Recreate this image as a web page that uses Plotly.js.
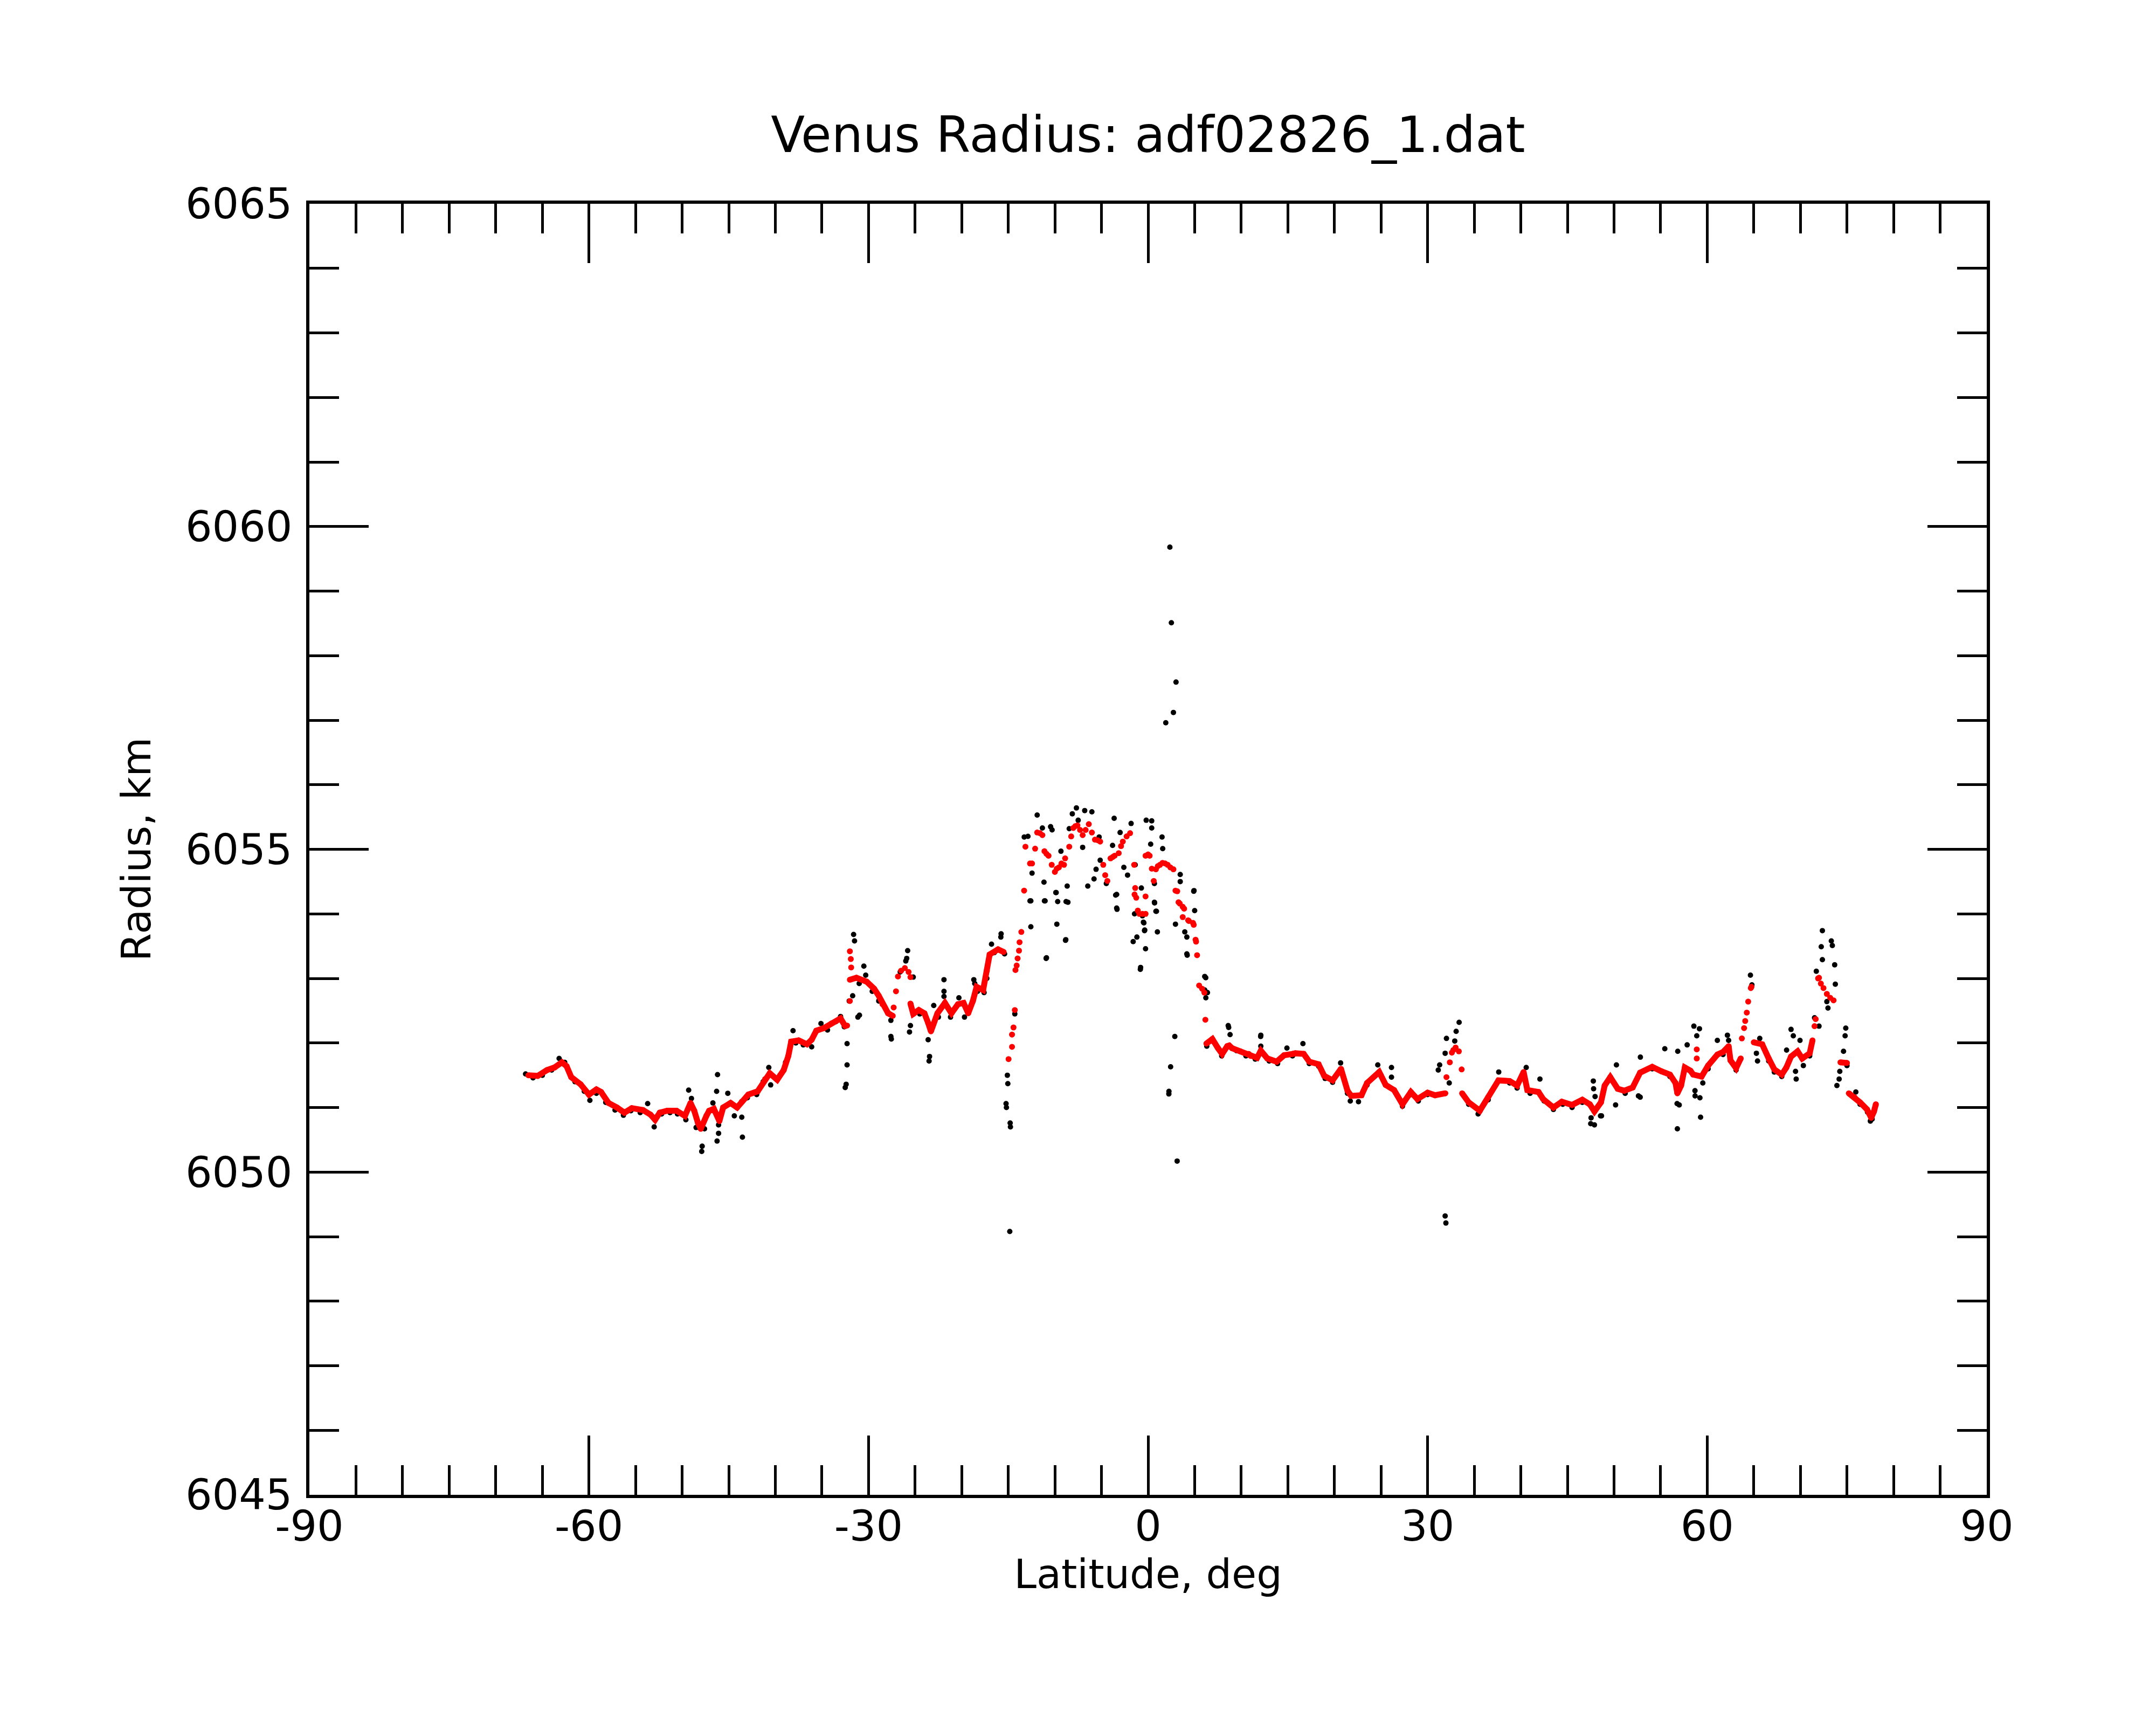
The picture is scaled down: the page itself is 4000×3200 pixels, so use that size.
<!DOCTYPE html>
<html>
<head>
<meta charset="utf-8">
<script src="https://cdn.plot.ly/plotly-3.0.1.min.js"></script>
<style>
  html, body { margin: 0; padding: 0; background: #ffffff; }
  #chart { width: 4000px; height: 3200px; }
</style>
</head>
<body>
<div id="chart"></div>
<script>
// Venus radius profile vs latitude, raw samples (black) and filtered track (red)

// axis ticks
const latTicks = [-90, -60, -30, 0, 30, 60, 90];
const latTickText = ['-90', '-60', '-30', '0', '30', '60', '90'];
const radTicks = [6045, 6050, 6055, 6060, 6065];
const radTickText = ['6045', '6050', '6055', '6060', '6065'];

// filtered track, continuous stretches (null = break)
const redLineLat = [
  -66.5, -65.5, -64.5, -63.7, -62.9, -62.4, -61.9, -60.9, -60.0, -59.2, -58.7, -57.9, -57.0, -56.2,
  -55.4, -54.2, -53.4, -52.9, -52.4, -51.6, -50.6, -49.7, -49.1, -48.7, -48.3, -48.0, -47.4, -47.1,
  -46.6, -46.0, -45.6, -44.8, -44.1, -43.6, -42.9, -41.9, -41.1, -40.6, -39.8, -39.1, -38.6, -38.3,
  -37.5, -36.6, -36.1, -35.6, -34.8, -34.0, -33.0, -32.5, null,
  -32.0, -31.3, -30.2, -29.4, -28.9, -28.5, -27.9, -27.4, null,
  -25.5, -25.2, -24.6, -24.0, -23.6, -23.3, -22.6, -21.8, -21.1, -20.4, -19.8, -19.3, -18.8, -18.4,
  -17.7, -17.3, -17.0, -16.1, -15.5, null,
  6.26, 6.9, 7.5, 7.95, 8.5, 8.71, 9.0, 9.9, 10.8, 11.0, 11.7, 12.1, 12.8, 13.8, 14.6, 15.5, 15.8,
  16.7, 17.3, 18.3, 18.9, 19.8, 20.7, 21.4, 21.8, 22.9, 23.5, 24.8, 25.5, 26.4, 27.3, 28.2, 28.9,
  30.0, 30.8, 31.9, null,
  33.7, 34.4, 35.6, 36.5, 37.6, 38.8, 39.6, 40.3, 40.7, 41.9, 42.4, 43.5, 44.4, 45.5, 46.6, 47.4,
  47.9, 48.6, 49.0, 49.6, 50.4, 51.1, 52.0, 52.8, 54.1, 55.1, 56.0, 56.6, 56.8, 57.2, 57.6, 58.2,
  58.5, 59.4, 60.1, 61.1, 61.7, 62.3, 62.5, 63.1, 63.6, null,
  65.0, 65.9, 66.6, 67.2, 68.0, 68.5, 69.0, 69.7, 70.2, 71.0, 71.3, null,
  74.3, 75.0, null,
  75.2, 75.8, 76.4, 77.15, 77.6, 77.9, 78.1
];
const redLineRad = [
  6051.50, 6051.49, 6051.58, 6051.62, 6051.70, 6051.64, 6051.47, 6051.36, 6051.20, 6051.28, 6051.24, 6051.07, 6051.00, 6050.92,
  6050.99, 6050.96, 6050.89, 6050.81, 6050.92, 6050.95, 6050.95, 6050.87, 6051.07, 6050.95, 6050.76, 6050.67, 6050.87, 6050.95,
  6050.98, 6050.79, 6051.00, 6051.07, 6051.00, 6051.09, 6051.20, 6051.25, 6051.44, 6051.53, 6051.43, 6051.58, 6051.80, 6052.02,
  6052.04, 6051.98, 6052.05, 6052.19, 6052.23, 6052.30, 6052.38, 6052.26, null,
  6052.98, 6053.01, 6052.95, 6052.84, 6052.73, 6052.60, 6052.46, 6052.42, null,
  6052.61, 6052.45, 6052.51, 6052.46, 6052.31, 6052.18, 6052.46, 6052.62, 6052.46, 6052.60, 6052.62, 6052.46, 6052.65, 6052.87,
  6052.82, 6053.12, 6053.37, 6053.45, 6053.41, null,
  6051.99, 6052.06, 6051.92, 6051.83, 6051.95, 6051.96, 6051.92, 6051.87, 6051.83, 6051.80, 6051.77, 6051.88, 6051.76, 6051.71, 6051.81, 6051.83, 6051.84,
  6051.83, 6051.71, 6051.67, 6051.49, 6051.42, 6051.60, 6051.26, 6051.18, 6051.19, 6051.38, 6051.55, 6051.35, 6051.27, 6051.05, 6051.24, 6051.13,
  6051.23, 6051.19, 6051.22, null,
  6051.22, 6051.08, 6050.95, 6051.16, 6051.42, 6051.41, 6051.34, 6051.55, 6051.27, 6051.24, 6051.13, 6051.00, 6051.09, 6051.04, 6051.12, 6051.05,
  6050.94, 6051.08, 6051.34, 6051.47, 6051.29, 6051.26, 6051.31, 6051.54, 6051.63, 6051.56, 6051.51, 6051.38, 6051.22, 6051.34, 6051.62, 6051.57,
  6051.51, 6051.48, 6051.65, 6051.82, 6051.86, 6051.95, 6051.73, 6051.61, 6051.76, null,
  6052.01, 6051.98, 6051.76, 6051.59, 6051.51, 6051.62, 6051.79, 6051.87, 6051.76, 6051.84, 6052.04, null,
  6051.70, 6051.69, null,
  6051.22, 6051.16, 6051.08, 6050.97, 6050.84, 6050.94, 6051.05
];

// filtered track, isolated samples
const redDotLat = [
  -32.3, -32.0, -31.9, -31.86, -32.0,
  -27.3, -27.05, -26.84, -26.5, -26.1, -25.7, -25.5,
  -14.97, -14.6, -14.6, -14.44, -14.3, -14.23, -14.1, -14.0, -13.85, -13.79, -13.6, -13.3, -13.16,
  -12.67, -12.45, -12.12, -11.9, -11.6, -11.34, -11.12, -10.9, -10.68, -10.34, -10.0, -9.8, -9.57,
  -9.3, -9.02, -8.9, -8.46, -8.25, -8.02, -7.8, -7.58, -7.3, -7.02, -6.7, -6.36, -6.03, -5.7, -5.4,
  -5.14, -4.81, -4.6, -4.37, -4.03, -3.8, -3.59, -3.15, -2.9, -2.71, -2.3, -1.93, -1.49, -1.45,
  -1.38, -1.27, -1.1, -0.93, -0.6, -0.27, -0.27, -0.27, 0.0, 0.17, 0.4, 0.61, 0.84, 1.05, 1.28,
  1.55, 1.83, 2.1, 2.39, 2.72, 2.94, 3.13, 3.27, 3.4, 3.71, 3.87, 3.72, 4.3, 4.38, 4.82, 4.9, 5.1,
  5.15, 5.26, 5.48, 5.8, 6.04, 6.15,
  32.02, 32.38, 32.6, 32.76, 33.0, 33.35, 33.65,
  58.88, 58.88, 63.72, 63.96, 64.08, 64.25, 64.4, 64.68, 64.75,
  71.52, 71.64, 71.9, 72.0, 72.2, 72.48, 72.84, 73.2, 73.56
];
const redDotRad = [
  6052.27, 6053.42, 6053.30, 6053.17, 6052.65,
  6052.55, 6052.80, 6053.03, 6053.12, 6053.16, 6053.10, 6053.02,
  6051.75, 6051.94, 6052.13, 6052.24, 6052.51, 6053.13, 6053.20, 6053.31, 6053.43, 6053.56, 6053.72, 6054.36, 6055.04,
  6054.78, 6054.78, 6055.01, 6055.26, 6055.25, 6055.22, 6054.97, 6054.93, 6054.90, 6054.76, 6054.65, 6054.70, 6054.72,
  6054.78, 6054.76, 6054.86, 6055.04, 6055.20, 6055.33, 6055.36, 6055.37, 6055.30, 6055.22, 6055.30, 6055.39, 6055.26, 6055.15, 6055.14,
  6055.12, 6054.76, 6054.60, 6054.51, 6054.86, 6054.88, 6054.90, 6054.94, 6055.05, 6055.12, 6055.20, 6055.25, 6054.76, 6054.30,
  6054.40, 6054.25, 6054.05, 6054.00, 6054.00, 6054.00, 6054.27, 6054.90, 6054.92, 6054.90, 6054.70, 6054.51, 6054.69, 6054.74, 6054.76,
  6054.79, 6054.78, 6054.76, 6054.72, 6054.69, 6054.36, 6054.35, 6054.18, 6054.16, 6054.11, 6054.08, 6053.95, 6053.90, 6053.89, 6053.86, 6053.83, 6053.60,
  6053.57, 6053.36, 6052.89, 6052.84, 6052.78, 6052.36,
  6051.47, 6051.70, 6051.85, 6051.89, 6051.93, 6051.87, 6051.59,
  6051.76, 6051.90, 6052.07, 6052.23, 6052.34, 6052.47, 6052.64, 6052.85, 6052.87,
  6052.26, 6052.37, 6053.00, 6053.01, 6052.92, 6052.85, 6052.76, 6052.70, 6052.66
];

// raw samples
const rawLat = [
  -66.8, -66.0, -65.0, -64.0, -63.2, -62.6, -61.5, -60.5, -59.9, -59.2, -58.2, -57.2, -56.3, -55.5,
  -54.5, -53.7, -53.0, -52.2, -51.3, -50.5, -49.6, -49.3, -49.0, -48.5, -47.9, -47.85, -47.6, -46.7,
  -46.3, -46.25, -46.2, -46.09, -46.09, -45.1, -44.4, -43.6, -43.53, -43.0, -42.0, -41.3, -40.7, -40.5,
  -39.5, -38.9, -38.1, -37.8, -37.0, -36.1, -35.1, -34.4, -33.5, -33.0, -32.6,
  -32.5, -32.4, -32.3, -32.3, -32.07, -31.7, -31.6, -31.5, -31.14, -30.97, -30.5, -30.3, -31.0, -29.6,
  -28.9, -27.6, -27.6, -27.55, -25.8, -25.9, -26.0, -26.6, -25.2, -25.5, -25.6, -24.5, -23.6, -23.45,
  -23.5, -23.0, -22.5, -21.9, -21.9, -21.9, -21.2, -20.3, -19.7, -18.7, -18.6, -18.3, -17.6, -17.3,
  -16.8, -16.5, -15.77, -15.8, -15.4,
  -15.1, -15.05, -15.24, -15.2, -14.8, -14.77, -14.84, -14.6, -14.3,
  -13.29, -12.89, -12.58, -12.58, -12.67, -12.45, -11.9, -11.34, -11.17, -11.12, -11.05, -10.94, -10.9,
  -10.46, -10.3, -9.9, -9.86, -9.79, -9.7, -9.35, -8.86, -8.83, -8.8, -8.68, -8.6, -8.46, -8.13, -7.69,
  -7.5, -7.02, -6.8, -6.47, -6.03, -5.8, -5.58, -5.25, -5.14, -4.48, -3.81, -3.64, -3.48, -3.37, -3.37,
  -3.33, -3.0, -2.6, -2.2, -1.82, -1.6, -1.45, -1.38, -1.2, -0.83, -0.8, -0.72, -0.6, -0.5, -0.45,
  -0.38, -0.36, -0.27, -0.2, 0.28, 0.39, 0.39, 0.68, 0.68, 0.7, 0.84, 0.9, 1.0, 1.5, 1.57,
  1.9, 2.34, 2.5, 2.72, 3.0, 2.23, 2.24, 2.42, 2.87, 3.12, 2.94, 3.45, 3.45, 3.94, 4.16, 4.16, 4.2,
  4.9, 4.93, 5.0, 6.08, 6.19, 6.08, 6.37, 6.2,
  6.3, 7.0, 7.9, 8.6, 8.65, 8.8, 9.5, 10.5, 11.5, 12.08, 12.1, 12.1, 13.0, 13.9, 14.9, 15.5, 16.62,
  17.3, 18.3, 19.0, 19.8, 20.66, 21.4, 21.7, 22.58, 23.5, 24.65, 25.0, 26.12, 26.12, 27.3, 28.2, 29.0,
  30.0, 31.14, 31.29, 31.88, 32.02, 32.32, 32.91, 33.06, 33.38, 31.88, 31.96,
  34.4, 35.42, 36.5, 37.63, 38.8, 39.6, 40.58, 41.0, 42.05, 42.5, 43.5, 44.5, 45.5, 46.6, 47.5, 47.54,
  47.78, 47.81, 47.9, 47.97, 48.55, 48.66, 50.17, 50.26, 51.2, 52.62, 52.81, 52.83, 54.1, 55.45, 56.0,
  56.77, 56.8, 56.84, 57.0, 57.85, 58.57, 58.69, 58.7, 58.88, 59.17, 59.22, 59.29, 59.53, 60.1, 61.09,
  61.7, 62.17, 62.3, 63.1, 64.64, 64.8, 65.28, 65.4, 65.64, 66.6, 67.2, 68.0, 68.52, 69.0, 69.24,
  69.48, 69.55, 69.96, 70.32, 71.0, 71.52, 71.71, 72.0, 72.24, 72.36, 72.36, 72.84, 72.96, 73.32,
  73.43, 73.68, 73.75, 73.92, 74.16, 74.23, 74.63, 74.8, 74.87, 75.0, 75.95, 76.4, 77.2, 77.51, 77.7
];
const rawRad = [
  6051.52, 6051.46, 6051.50, 6051.58, 6051.76, 6051.70, 6051.40, 6051.25, 6051.11, 6051.22, 6051.08, 6050.96, 6050.88, 6050.95,
  6050.92, 6051.06, 6050.70, 6050.90, 6050.92, 6050.90, 6050.81, 6051.27, 6051.14, 6050.69, 6050.32, 6050.40, 6050.67, 6051.07,
  6051.25, 6050.48, 6051.51, 6050.73, 6050.60, 6051.22, 6050.87, 6050.85, 6050.54, 6051.15, 6051.20, 6051.40, 6051.62, 6051.35,
  6051.50, 6051.70, 6052.19, 6052.00, 6051.97, 6051.94, 6052.30, 6052.20, 6052.33, 6052.41, 6052.25,
  6051.31, 6051.36, 6051.66, 6051.99, 6052.65, 6052.73, 6053.68, 6053.58, 6052.40, 6052.43, 6053.19, 6053.05, 6052.92, 6052.80,
  6052.65, 6052.35, 6052.10, 6052.06, 6053.43, 6053.31, 6053.27, 6053.10, 6053.02, 6052.27, 6052.17, 6052.45, 6052.05, 6051.79,
  6051.72, 6052.58, 6052.40, 6052.98, 6052.80, 6052.72, 6052.40, 6052.70, 6052.40, 6052.98, 6052.92, 6052.80, 6052.78, 6053.00,
  6053.53, 6053.40, 6053.69, 6053.64, 6053.38,
  6051.50, 6051.37, 6051.06, 6051.00, 6050.76, 6050.70, 6049.08, 6052.13, 6052.45,
  6055.19, 6055.20, 6053.80, 6054.20, 6054.20, 6054.63, 6055.53, 6055.33, 6054.49, 6054.20, 6054.20, 6053.31, 6053.32,
  6055.35, 6055.30, 6054.33, 6054.33, 6053.84, 6054.19, 6054.97, 6053.59, 6053.60, 6054.19, 6054.43, 6054.18, 6055.32, 6055.55, 6055.64,
  6055.45, 6055.03, 6055.60, 6054.43, 6055.58, 6054.54, 6054.69, 6055.19, 6054.83, 6054.47, 6055.06, 6055.48, 6054.29, 6054.30, 6054.09,
  6054.07, 6055.26, 6054.72, 6054.60, 6055.40, 6053.57, 6054.00, 6054.76, 6053.64, 6053.14, 6053.17, 6054.40, 6053.97, 6053.87, 6053.86,
  6053.74, 6053.75, 6053.46, 6055.45, 6055.08, 6055.44, 6055.33, 6054.47, 6054.18, 6054.17, 6054.04, 6054.04, 6053.72, 6055.19, 6055.01,
  6056.96, 6059.68, 6058.51, 6057.12, 6057.59, 6051.21, 6051.25, 6051.63, 6052.10, 6050.17, 6053.84, 6054.61, 6054.50, 6053.72, 6053.64, 6053.38, 6053.36,
  6054.35, 6054.36, 6054.05, 6053.03, 6053.01, 6052.82, 6052.78, 6052.70,
  6051.95, 6052.02, 6051.80, 6052.27, 6052.24, 6052.13, 6051.88, 6051.80, 6051.75, 6052.10, 6052.12, 6051.95, 6051.72, 6051.68, 6051.92, 6051.80, 6051.99,
  6051.68, 6051.64, 6051.45, 6051.39, 6051.69, 6051.22, 6051.10, 6051.09, 6051.35, 6051.66, 6051.50, 6051.62, 6051.47, 6051.02, 6051.20, 6051.10,
  6051.20, 6051.58, 6051.66, 6051.84, 6052.07, 6051.38, 6052.03, 6052.18, 6052.32, 6049.32, 6049.21,
  6051.05, 6050.90, 6051.12, 6051.55, 6051.38, 6051.30, 6051.62, 6051.22, 6051.44, 6051.10, 6050.97, 6051.05, 6051.00, 6051.08, 6050.75, 6050.84,
  6051.41, 6051.29, 6050.73, 6051.17, 6050.87, 6050.87, 6051.04, 6051.66, 6051.22, 6051.18, 6051.16, 6051.78, 6051.60, 6051.91, 6051.48,
  6051.06, 6050.67, 6051.87, 6051.04, 6051.97, 6052.26, 6051.26, 6051.18, 6052.11, 6052.22, 6051.15, 6050.85, 6051.38, 6051.60, 6052.04,
  6051.82, 6052.12, 6052.04, 6051.58, 6053.05, 6052.90, 6051.84, 6051.72, 6052.07, 6051.72, 6051.55, 6051.48, 6051.89, 6052.21, 6052.11,
  6051.56, 6051.44, 6052.04, 6051.65, 6051.80, 6052.39, 6053.11, 6052.26, 6053.49, 6053.74, 6053.29, 6052.64, 6052.54, 6053.58,
  6053.51, 6053.21, 6052.91, 6051.34, 6051.44, 6051.56, 6051.87, 6052.11, 6052.23, 6051.65, 6051.24, 6051.05, 6050.93, 6050.79, 6050.82
];

const traces = [
  {
    x: rawLat, y: rawRad, type: 'scatter', mode: 'markers',
    marker: { color: '#000000', size: 10 },
    hoverinfo: 'skip'
  },
  {
    x: redLineLat, y: redLineRad, type: 'scatter', mode: 'lines+markers',
    connectgaps: false,
    line: { color: '#ff0000', width: 11 },
    marker: { color: '#ff0000', size: 11 },
    hoverinfo: 'skip'
  },
  {
    x: redDotLat, y: redDotRad, type: 'scatter', mode: 'markers',
    marker: { color: '#ff0000', size: 11 },
    hoverinfo: 'skip'
  }
];

const axisCommon = {
  ticks: 'inside',
  ticklen: 110,
  tickwidth: 5,
  tickcolor: '#000000',
  showline: true,
  linewidth: 6,
  linecolor: '#000000',
  mirror: 'ticks',
  showgrid: false,
  zeroline: false,
  tickfont: { size: 78 }
};

const layout = {
  width: 4000,
  height: 3200,
  margin: { l: 574, r: 314, t: 378, b: 427 },
  paper_bgcolor: '#ffffff',
  plot_bgcolor: '#ffffff',
  showlegend: false,
  font: { family: 'DejaVu Sans', size: 74, color: '#000000' },
  title: {
    text: 'Venus Radius: adf02826_1.dat',
    font: { size: 92 },
    x: 0.5, xref: 'paper', xanchor: 'center',
    y: 1 - 250 / 3200, yref: 'container', yanchor: 'middle'
  },
  xaxis: Object.assign({}, axisCommon, {
    range: [-90, 90],
    tickmode: 'array', tickvals: latTicks, ticktext: latTickText,
    ticklabelstandoff: -15,
    minor: { dtick: 5, tick0: -90, ticks: 'inside', ticklen: 55, tickwidth: 5, tickcolor: '#000000', showgrid: false },
    title: { text: 'Latitude, deg', standoff: 0, font: { size: 75 } }
  }),
  yaxis: Object.assign({}, axisCommon, {
    range: [6045, 6065],
    tickmode: 'array', tickvals: radTicks, ticktext: radTickText,
    ticklabelstandoff: 10,
    minor: { dtick: 1, tick0: 6045, ticks: 'inside', ticklen: 55, tickwidth: 5, tickcolor: '#000000', showgrid: false },
    title: { text: 'Radius, km', standoff: 42, font: { size: 75 } }
  })
};

Plotly.newPlot('chart', traces, layout, { staticPlot: true, displayModeBar: false });
</script>
</body>
</html>
